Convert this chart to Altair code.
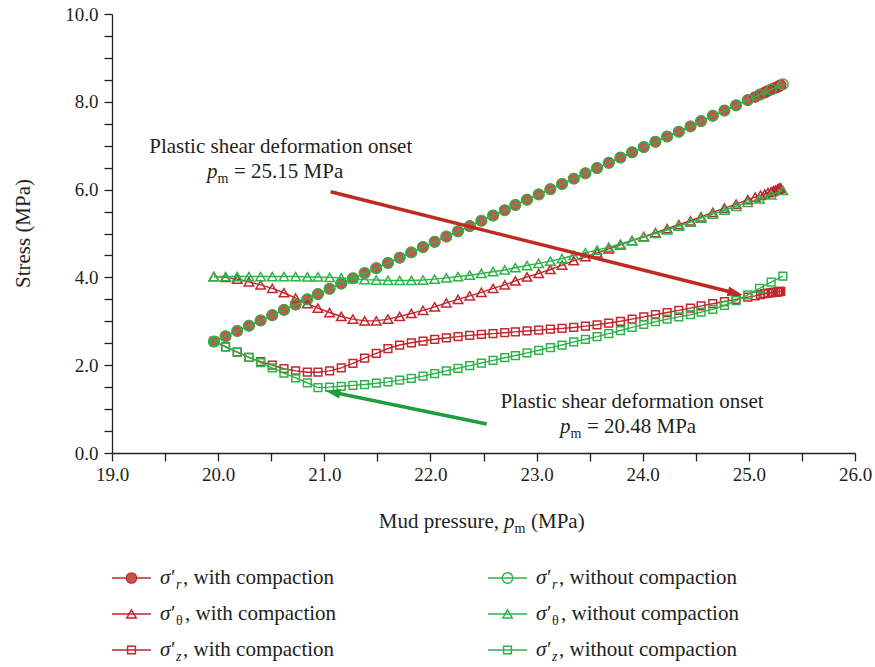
import math
import altair as alt
import pandas as pd

# ---------------- data ----------------
pm_without = [19.96, 20.07, 20.18, 20.29, 20.40, 20.51, 20.62, 20.73, 20.84, 20.94,
              21.05, 21.16, 21.27, 21.38, 21.49, 21.60, 21.71, 21.82, 21.93, 22.04,
              22.15, 22.26, 22.37, 22.48, 22.59, 22.70, 22.80, 22.91, 23.02, 23.13,
              23.24, 23.35, 23.46, 23.57, 23.68, 23.79, 23.90, 24.01, 24.12, 24.23,
              24.34, 24.45, 24.55, 24.66, 24.77, 24.88, 24.99, 25.10, 25.21, 25.32]
pm_with_tail = [25.06, 25.11, 25.15, 25.18, 25.21, 25.23, 25.25, 25.27, 25.28, 25.29, 25.30]
pm_with = pm_without[:47] + pm_with_tail

sr_without = [2.54, 2.66, 2.78, 2.90, 3.02, 3.14, 3.26, 3.38, 3.50, 3.62,
              3.74, 3.86, 3.98, 4.10, 4.21, 4.33, 4.45, 4.57, 4.69, 4.81,
              4.93, 5.05, 5.17, 5.29, 5.41, 5.53, 5.65, 5.77, 5.89, 6.01,
              6.13, 6.25, 6.37, 6.49, 6.61, 6.73, 6.85, 6.97, 7.09, 7.21,
              7.32, 7.44, 7.56, 7.68, 7.80, 7.92, 8.04, 8.16, 8.28, 8.40]
sr_with = sr_without[:47] + [8.11, 8.17, 8.21, 8.25, 8.28, 8.30, 8.32, 8.34, 8.35, 8.37, 8.38]

st_without = [4.02, 4.02, 4.02, 4.02, 4.02, 4.02, 4.02, 4.02, 4.01, 4.01,
              4.00, 3.99, 3.97, 3.95, 3.94, 3.93, 3.93, 3.93, 3.94, 3.96,
              3.99, 4.02, 4.05, 4.09, 4.13, 4.17, 4.22, 4.27, 4.32, 4.37,
              4.43, 4.50, 4.56, 4.62, 4.69, 4.76, 4.84, 4.92, 5.00, 5.08,
              5.17, 5.26, 5.35, 5.44, 5.53, 5.62, 5.71, 5.79, 5.88, 5.98]
st_with = [4.02, 4.00, 3.96, 3.90, 3.83, 3.75, 3.65, 3.53, 3.40, 3.30,
           3.20, 3.11, 3.05, 3.01, 3.01, 3.05, 3.11, 3.18, 3.25, 3.33,
           3.42, 3.50, 3.58, 3.66, 3.75, 3.83, 3.92, 4.01, 4.09, 4.18,
           4.28, 4.38, 4.47, 4.56, 4.65, 4.74, 4.84, 4.93, 5.02, 5.11,
           5.20, 5.29, 5.38, 5.48, 5.58, 5.67, 5.77,
           5.83, 5.87, 5.90, 5.93, 5.95, 5.97, 5.99, 6.01, 6.02, 6.03, 6.04]

sz_without = [2.54, 2.42, 2.30, 2.18, 2.06, 1.94, 1.82, 1.71, 1.60, 1.49,
              1.50, 1.52, 1.54, 1.56, 1.59, 1.62, 1.66, 1.70, 1.75, 1.81,
              1.87, 1.93, 1.99, 2.05, 2.11, 2.17, 2.22, 2.28, 2.34, 2.40,
              2.46, 2.53, 2.59, 2.65, 2.72, 2.79, 2.86, 2.93, 2.99, 3.05,
              3.10, 3.15, 3.21, 3.27, 3.36, 3.47, 3.60, 3.75, 3.89, 4.03]
sz_with = [2.54, 2.42, 2.30, 2.18, 2.08, 2.00, 1.92, 1.87, 1.84, 1.84,
           1.87, 1.94, 2.04, 2.16, 2.27, 2.38, 2.46, 2.51, 2.55, 2.59,
           2.62, 2.65, 2.68, 2.70, 2.72, 2.74, 2.76, 2.78, 2.80, 2.82,
           2.84, 2.86, 2.89, 2.92, 2.96, 3.00, 3.05, 3.10, 3.15, 3.20,
           3.25, 3.30, 3.35, 3.40, 3.45, 3.50, 3.55,
           3.58, 3.61, 3.63, 3.64, 3.65, 3.66, 3.66, 3.67, 3.67, 3.68, 3.68]

x_ticks = [19.0, 19.5, 20.0, 20.5, 21.0, 21.5, 22.0, 22.5, 23.0, 23.5, 24.0, 24.5, 25.0, 25.5, 26.0]
y_ticks = [0.0, 0.5, 1.0, 1.5, 2.0, 2.5, 3.0, 3.5, 4.0, 4.5, 5.0, 5.5, 6.0, 6.5, 7.0,
           7.5, 8.0, 8.5, 9.0, 9.5, 10.0]

# annotation anchors (data units)
arrow_red_tail = [21.06, 5.95]
arrow_red_tip = [24.94, 3.60]
arrow_green_tail = [22.53, 0.66]
arrow_green_tip = [21.01, 1.42]
note_red_value = "= 25.15 MPa"
note_green_value = "= 20.48 MPa"
note_title = "Plastic shear deformation onset"

# ---------------- styling ----------------
FONT = "Liberation Serif"
INK = "#231f20"
RED = "#c1272d"
RED_FILL = "#c9544c"
GREEN = "#2eb34b"
RED_ARROW = "#bf2a21"
GREEN_ARROW = "#1f9e3e"

W, H = 743, 439
X_DOM = [19, 26]
Y_DOM = [0, 10]

xscale = alt.Scale(domain=X_DOM, nice=False, zero=False)
yscale = alt.Scale(domain=Y_DOM, nice=False, zero=False)

axis_common = dict(grid=False, tickSize=8, labelFlush=False, labelOverlap=False,
                   domainColor=INK, tickColor=INK, labelColor=INK, labelFont=FONT,
                   labelFontSize=19, domainWidth=1.3, tickWidth=1.3)
xaxis = alt.Axis(values=x_ticks, title=None, labelPadding=4,
                 labelExpr="datum.value % 1 === 0 ? format(datum.value, '.1f') : ''",
                 **axis_common)
yaxis = alt.Axis(values=y_ticks, title="Stress (MPa)", labelPadding=6,
                 labelExpr="datum.value % 2 === 0 ? format(datum.value, '.1f') : ''",
                 titleFont=FONT, titleFontSize=21, titleFontWeight="normal",
                 titleColor=INK, titleAngle=-90, titleX=-89, titleY=219,
                 titleAlign="center", titleBaseline="middle", **axis_common)


def enc(chart, **extra):
    return chart.encode(x=alt.X("pm:Q", scale=xscale, axis=xaxis),
                        y=alt.Y("stress:Q", scale=yscale, axis=yaxis), **extra)


SIZES = {"circle": 110, "triangle-up": 90, "square": 60}


def point_mark(shape, color, filled):
    if filled:
        return dict(shape=shape, filled=True, fill=RED_FILL, stroke=color,
                    strokeWidth=1.2, size=SIZES[shape], opacity=1)
    return dict(shape=shape, filled=False, color=color, strokeWidth=1.5,
                size=SIZES[shape], opacity=1)


series = [
    (pm_with, sr_with, "circle", RED, True),
    (pm_with, st_with, "triangle-up", RED, False),
    (pm_with, sz_with, "square", RED, False),
    (pm_without, sr_without, "circle", GREEN, False),
    (pm_without, st_without, "triangle-up", GREEN, False),
    (pm_without, sz_without, "square", GREEN, False),
]

layers = []
for xv, yv, shape, color, filled in series:
    df = pd.DataFrame({"pm": xv, "stress": yv})
    layers.append(enc(alt.Chart(df).mark_line(color=color, strokeWidth=1.4)))
    layers.append(enc(alt.Chart(df).mark_point(**point_mark(shape, color, filled))))

# ---------------- arrows ----------------
ARROW_PATH = "M0,0L-2,-0.65L-2,0.65Z"


def arrow(tail, tip, color):
    ppx = W / (X_DOM[1] - X_DOM[0])
    ppy = H / (Y_DOM[1] - Y_DOM[0])
    dxp = (tip[0] - tail[0]) * ppx
    dyp = -(tip[1] - tail[1]) * ppy
    ang = math.degrees(math.atan2(dyp, dxp)) % 360
    L = math.hypot(dxp, dyp)
    back = 9
    end = (tip[0] - dxp / L * back / ppx, tip[1] + dyp / L * back / ppy)
    shaft = pd.DataFrame({"pm": [tail[0]], "stress": [tail[1]],
                          "pm2": [end[0]], "stress2": [end[1]]})
    rule = alt.Chart(shaft).mark_rule(color=color, strokeWidth=3.5, strokeCap="butt").encode(
        x=alt.X("pm:Q", scale=xscale, axis=xaxis),
        y=alt.Y("stress:Q", scale=yscale, axis=yaxis),
        x2="pm2:Q", y2="stress2:Q")
    head = enc(alt.Chart(pd.DataFrame({"pm": [tip[0]], "stress": [tip[1]]})).mark_point(
        shape=ARROW_PATH, angle=round(ang, 2), filled=True, color=color, size=225, opacity=1))
    return [rule, head]


layers += arrow(arrow_red_tail, arrow_red_tip, RED_ARROW)
layers += arrow(arrow_green_tail, arrow_green_tip, GREEN_ARROW)


# ---------------- text helpers ----------------
def dtext(x, y, s, size=21, italic=False, align="left", dx=0, dy=0):
    df = pd.DataFrame({"pm": [x], "stress": [y]})
    return enc(alt.Chart(df).mark_text(text=s, align=align, baseline="alphabetic", dx=dx, dy=dy,
                                       font=FONT, fontSize=size, color=INK,
                                       fontStyle="italic" if italic else "normal"))


DUMMY = alt.Data(values=[{"a": 1}])


def ptext(x, y, s, size=21, italic=False, align="left"):
    return alt.Chart(DUMMY).mark_text(text=s, align=align, baseline="alphabetic", font=FONT,
                                      fontSize=size, color=INK,
                                      fontStyle="italic" if italic else "normal").encode(
        x=alt.value(x), y=alt.value(y))


# annotation 1 (red)
layers.append(dtext(20.59, 6.83, note_title, align="center"))
layers.append(dtext(19.895, 6.26, "p", italic=True))
layers.append(dtext(19.895, 6.26, "m", size=14, dx=10.5, dy=5))
layers.append(dtext(19.895, 6.26, note_red_value, dx=27))
# annotation 2 (green)
layers.append(dtext(23.90, 1.03, note_title, align="center"))
layers.append(dtext(23.22, 0.46, "p", italic=True))
layers.append(dtext(23.22, 0.46, "m", size=14, dx=10.5, dy=5))
layers.append(dtext(23.22, 0.46, note_green_value, dx=27))

# x-axis title (pixel positions relative to plot origin)
XT_Y = 514
XT_A = 392
layers.append(ptext(XT_A - 5, XT_Y, "Mud pressure,", align="right"))
layers.append(ptext(XT_A, XT_Y, "p", italic=True))
layers.append(ptext(XT_A + 10.5, XT_Y + 5, "m", size=14))
layers.append(ptext(XT_A + 27, XT_Y, "(MPa)"))

# ---------------- legend ----------------
legend_items = [
    (0, 0, "circle", RED, True, "r", True, "with compaction"),
    (1, 0, "triangle-up", RED, False, "θ", False, "with compaction"),
    (2, 0, "square", RED, False, "z", True, "with compaction"),
    (0, 1, "circle", GREEN, False, "r", True, "without compaction"),
    (1, 1, "triangle-up", GREEN, False, "θ", False, "without compaction"),
    (2, 1, "square", GREEN, False, "z", True, "without compaction"),
]
LEG_Y0, LEG_DY = 564, 36
LEG_X = [0, 376]
for row, col, shape, color, filled, sub, sub_italic, desc in legend_items:
    yy = LEG_Y0 + row * LEG_DY
    x0 = LEG_X[col]
    layers.append(alt.Chart(DUMMY).mark_rule(color=color, strokeWidth=1.5).encode(
        x=alt.value(x0), x2=alt.value(x0 + 39), y=alt.value(yy)))
    layers.append(alt.Chart(DUMMY).mark_point(**point_mark(shape, color, filled)).encode(
        x=alt.value(x0 + 19.5), y=alt.value(yy)))
    tx = x0 + 48
    tb = yy + 6
    layers.append(ptext(tx, tb, "σ", italic=True))
    layers.append(ptext(tx + 11, tb, "′"))
    layers.append(ptext(tx + 16, tb + 5, sub, size=14, italic=sub_italic))
    layers.append(ptext(tx + (25 if sub == "θ" else 23), tb, ", " + desc))

chart = alt.layer(*layers).properties(
    width=W, height=H,
    autosize=alt.AutoSizeParams(type="none"),
    padding={"left": 112, "top": 14, "right": 20, "bottom": 214},
).configure_view(stroke=None)

chart.save("out.html", embed_options={"renderer": "svg", "actions": False})
